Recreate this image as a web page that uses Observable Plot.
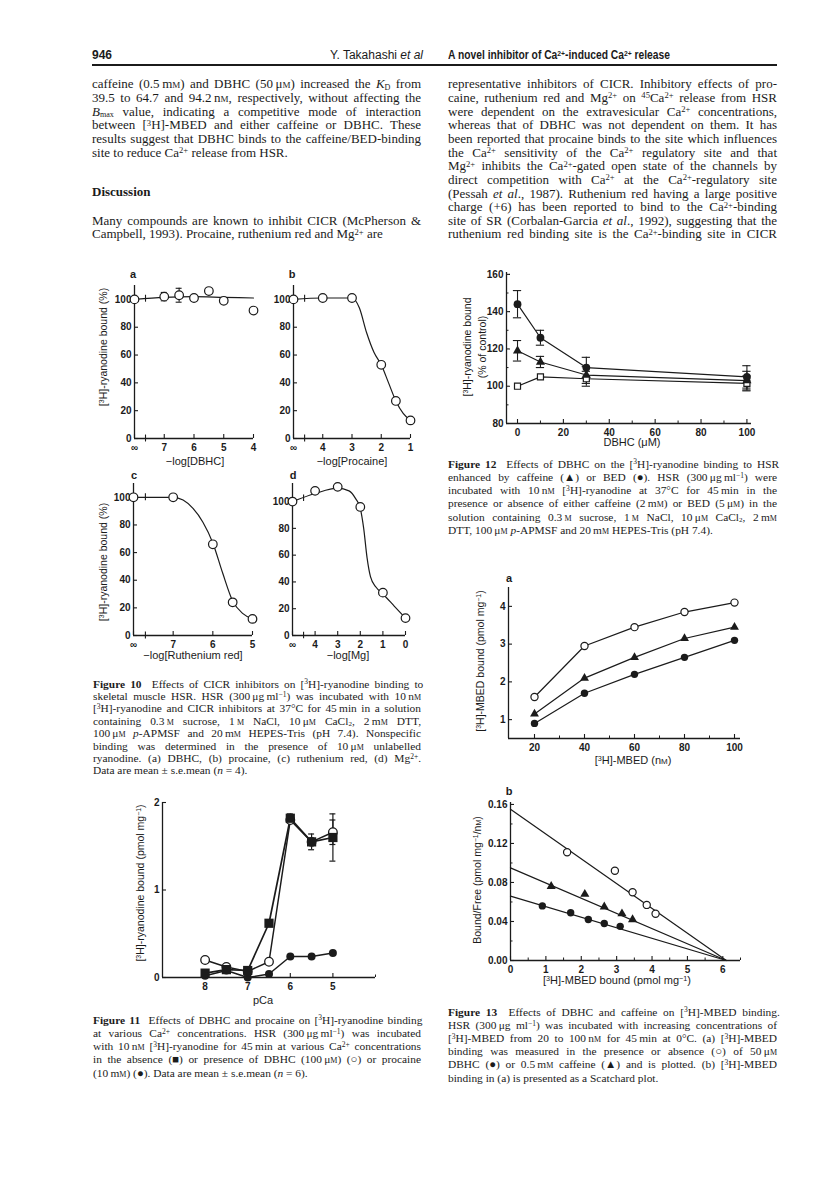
<!DOCTYPE html>
<html>
<head>
<meta charset="utf-8">
<script src="https://cdn.jsdelivr.net/npm/d3@7"></script>
<script src="https://cdn.jsdelivr.net/npm/@observablehq/plot@0.6"></script>
<style>
  html,body{margin:0;padding:0;background:#fff;}
  #page{position:relative;width:816px;height:1187px;overflow:hidden;background:#fff;color:#1b1b1b;}
  .t{position:absolute;white-space:nowrap;}
  .body{font-family:"Liberation Serif","Times New Roman",serif;font-size:13px;line-height:13px;}
  .cap{font-family:"Liberation Serif","Times New Roman",serif;font-size:11.4px;line-height:12px;}
  .head{font-family:"Liberation Sans",Arial,sans-serif;font-size:12px;line-height:13px;}
  sup{font-size:0.66em;vertical-align:0;position:relative;top:-0.42em;line-height:0;}
  sub{font-size:0.62em;vertical-align:0;position:relative;top:0.15em;line-height:0;}
  .sc{font-variant:small-caps;}
  .lab{position:absolute;white-space:nowrap;font-family:"Liberation Sans",Arial,sans-serif;font-size:11px;line-height:13px;transform:translate(-50%,-50%);}
  .rot{transform:translate(-50%,-50%) rotate(-90deg);font-size:10.5px;}
  .let{position:absolute;font-family:"Liberation Sans",Arial,sans-serif;font-weight:bold;font-size:11px;transform:translate(-50%,-50%);}
  #page svg{position:absolute;overflow:visible;}
</style>
</head>
<body>
<div id="page"></div>
<script>
// ===================== DATA =====================
// Figure 10a  DBHC (x = -log concentration, 8 stands for "∞")
const f10aX = [8, 7, 6.5, 6, 5.5, 5, 4];
const f10aY = [100, 102, 103, 101, 106, 99, 92];
const f10aErr = [0, 3, 5, 0, 0, 0, 0];
const f10aCurveX = [8, 7, 6, 5, 4];
const f10aCurveY = [100, 101.5, 102, 101.5, 101];
// Figure 10b  procaine (5 stands for "∞")
const f10bX = [5, 4, 3, 2, 1.5, 1];
const f10bY = [100, 101, 101, 53, 27, 13];
const f10bCurveX = [5, 4, 3, 2.75, 2.5, 2.25, 2, 1.75, 1.5, 1.25, 1];
const f10bCurveY = [100, 101, 101, 94, 76, 62, 53, 40, 27, 18, 13];
// Figure 10c  ruthenium red (8 stands for "∞")
const f10cX = [8, 7, 6, 5.5, 5];
const f10cY = [100, 100, 66, 24, 12];
const f10cCurveX = [8, 7, 6.75, 6.5, 6.25, 6, 5.75, 5.5, 5.25, 5];
const f10cCurveY = [100, 100, 98, 92, 82, 67, 45, 25, 16, 12];
// Figure 10d  Mg (5 stands for "∞")
const f10dX = [5, 4, 3, 2, 1, 0];
const f10dY = [100, 108, 111, 96, 32, 13];
const f10dCurveX = [5, 4, 3, 2.5, 2.2, 2, 1.85, 1.7, 1.55, 1.3, 1, 0.5, 0];
const f10dCurveY = [100, 106, 110, 108, 102, 95, 80, 58, 44, 36, 31, 22, 13];
const f10YTicks = [0, 20, 40, 60, 80, 100];

// Figure 11  pCa
const f11X = [8, 7.5, 7, 6.5, 6, 5.5, 5];
const f11Ctrl = [0.05, 0.09, 0.08, 0.62, 1.82, 1.55, 1.60];
const f11CtrlErr = [0, 0, 0, 0.03, 0.05, 0.09, 0.27];
const f11Dbhc = [0.20, 0.12, 0.07, 0.18, 1.80, 1.55, 1.66];
const f11DbhcErr = [0, 0, 0, 0, 0, 0, 0.14];
const f11Proc = [0.02, 0.08, 0.00, 0.04, 0.24, 0.24, 0.28];

// Figure 12  DBHC (µM)
const f12X = [0, 10, 30, 100];
const f12Bed = [144, 126, 110, 105];
const f12BedErr = [7.3, 4, 5.5, 6];
const f12Caf = [119, 113, 106, 103];
const f12CafErr = [5.5, 3, 4.5, 5];
const f12Ctl = [100, 105, 104, 101.5];
const f12CtlErr = [0, 0, 4, 4];

// Figure 13a  [3H]-MBED (nM)
const f13aX = [20, 40, 60, 80, 100];
const f13aCtl = [1.6, 2.95, 3.45, 3.85, 4.1];
const f13aCaf = [1.15, 2.1, 2.65, 3.15, 3.45];
const f13aDbhc = [0.9, 1.7, 2.2, 2.65, 3.1];

// Figure 13b  Scatchard
const f13bCtlX = [1.6, 2.95, 3.45, 3.85, 4.1];
const f13bCtlY = [0.111, 0.092, 0.070, 0.057, 0.048];
const f13bCafX = [1.15, 2.1, 2.65, 3.15, 3.45];
const f13bCafY = [0.076, 0.068, 0.055, 0.048, 0.042];
const f13bDbhcX = [0.9, 1.7, 2.2, 2.65, 3.1];
const f13bDbhcY = [0.056, 0.049, 0.042, 0.038, 0.035];
const f13bFitX = [0, 6.1];
const f13bCtlFit = [0.155, 0];
const f13bCafFit = [0.095, 0];
const f13bDbhcFit = [0.066, 0];

// ===================== TEXT =====================
const M = '<span class="sc">m</span>';
const S = '&thinsp;';
const headPage = "946";
const headAuthor = "Y. Takahashi <i>et al</i>";
const headTitle = "A novel inhibitor of Ca<sup>2+</sup>-induced Ca<sup>2+</sup> release";
const leftPara1 = [
  `caffeine (0.5${S}m${M}) and DBHC (50${S}μ${M}) increased the <i>K</i><sub>D</sub> from`,
  `39.5 to 64.7 and 94.2${S}n${M}, respectively, without affecting the`,
  `<i>B</i><sub>max</sub> value, indicating a competitive mode of interaction`,
  `between [<sup>3</sup>H]-MBED and either caffeine or DBHC. These`,
  `results suggest that DBHC binds to the caffeine/BED-binding`,
  `site to reduce Ca<sup>2+</sup> release from HSR.`
];
const discussionHead = "Discussion";
const leftPara2 = [
  `Many compounds are known to inhibit CICR (McPherson &amp;`,
  `Campbell, 1993). Procaine, ruthenium red and Mg<sup>2+</sup> are`
];
const rightPara = [
  `representative inhibitors of CICR. Inhibitory effects of pro-`,
  `caine, ruthenium red and Mg<sup>2+</sup> on <sup>45</sup>Ca<sup>2+</sup> release from HSR`,
  `were dependent on the extravesicular Ca<sup>2+</sup> concentrations,`,
  `whereas that of DBHC was not dependent on them. It has`,
  `been reported that procaine binds to the site which influences`,
  `the Ca<sup>2+</sup> sensitivity of the Ca<sup>2+</sup> regulatory site and that`,
  `Mg<sup>2+</sup> inhibits the Ca<sup>2+</sup>-gated open state of the channels by`,
  `direct competition with Ca<sup>2+</sup> at the Ca<sup>2+</sup>-regulatory site`,
  `(Pessah <i>et al</i>., 1987). Ruthenium red having a large positive`,
  `charge (+6) has been reported to bind to the Ca<sup>2+</sup>-binding`,
  `site of SR (Corbalan-Garcia <i>et al</i>., 1992), suggesting that the`,
  `ruthenium red binding site is the Ca<sup>2+</sup>-binding site in CICR`
];
const cap10 = [
  `<b>Figure 10</b>&nbsp; Effects of CICR inhibitors on [<sup>3</sup>H]-ryanodine binding to`,
  `skeletal muscle HSR. HSR (300${S}μg${S}ml<sup>−1</sup>) was incubated with 10${S}n${M}`,
  `[<sup>3</sup>H]-ryanodine and CICR inhibitors at 37°C for 45${S}min in a solution`,
  `containing 0.3${S}${M} sucrose, 1${S}${M} NaCl, 10${S}μ${M} CaCl<sub>2</sub>, 2${S}m${M} DTT,`,
  `100${S}μ${M} <i>p</i>-APMSF and 20${S}m${M} HEPES-Tris (pH 7.4). Nonspecific`,
  `binding was determined in the presence of 10${S}μ${M} unlabelled`,
  `ryanodine. (a) DBHC, (b) procaine, (c) ruthenium red, (d) Mg<sup>2+</sup>.`,
  `Data are mean ± s.e.mean (<i>n</i> = 4).`
];
const cap11 = [
  `<b>Figure 11</b>&nbsp; Effects of DBHC and procaine on [<sup>3</sup>H]-ryanodine binding`,
  `at various Ca<sup>2+</sup> concentrations. HSR (300${S}μg${S}ml<sup>−1</sup>) was incubated`,
  `with 10${S}n${M} [<sup>3</sup>H]-ryanodine for 45${S}min at various Ca<sup>2+</sup> concentrations`,
  `in the absence (■) or presence of DBHC (100${S}μ${M}) (○) or procaine`,
  `(10${S}m${M}) (●). Data are mean ± s.e.mean (<i>n</i> = 6).`
];
const cap12 = [
  `<b>Figure 12</b>&nbsp; Effects of DBHC on the [<sup>3</sup>H]-ryanodine binding to HSR`,
  `enhanced by caffeine (▲) or BED (●). HSR (300${S}μg${S}ml<sup>−1</sup>) were`,
  `incubated with 10${S}n${M} [<sup>3</sup>H]-ryanodine at 37°C for 45${S}min in the`,
  `presence or absence of either caffeine (2${S}m${M}) or BED (5${S}μ${M}) in the`,
  `solution containing 0.3${S}${M} sucrose, 1${S}${M} NaCl, 10${S}μ${M} CaCl<sub>2</sub>, 2${S}m${M}`,
  `DTT, 100${S}μ${M} <i>p</i>-APMSF and 20${S}m${M} HEPES-Tris (pH 7.4).`
];
const cap13 = [
  `<b>Figure 13</b>&nbsp; Effects of DBHC and caffeine on [<sup>3</sup>H]-MBED binding.`,
  `HSR (300${S}μg ml<sup>−1</sup>) was incubated with increasing concentrations of`,
  `[<sup>3</sup>H]-MBED from 20 to 100${S}n${M} for 45${S}min at 0°C. (a) [<sup>3</sup>H]-MBED`,
  `binding was measured in the presence or absence (○) of 50${S}μ${M}`,
  `DBHC (●) or 0.5${S}m${M} caffeine (▲) and is plotted. (b) [<sup>3</sup>H]-MBED`,
  `binding in (a) is presented as a Scatchard plot.`
];
const xLabelText = ["−log[DBHC]", "−log[Procaine]", "−log[Ruthenium red]", "−log[Mg]", "pCa", "DBHC (μM)",
  `[<sup>3</sup>H]-MBED (n${M})`, "[<sup>3</sup>H]-MBED bound (pmol mg<sup>−1</sup>)"];
const yLabelText = ["[<sup>3</sup>H]-ryanodine bound (%)", "[<sup>3</sup>H]-ryanodine bound (%)",
  "[<sup>3</sup>H]-ryanodine bound (pmol mg<sup>−1</sup>)", "[<sup>3</sup>H]-ryanodine bound", "(% of control)",
  "[<sup>3</sup>H]-MBED bound (pmol mg<sup>−1</sup>)", `Bound/Free (pmol mg<sup>−1</sup>/n${M})`];
const panelLetterText = ["a", "b", "c", "d", "a", "b"];

// ===================== LAYOUT =====================
const page = document.getElementById("page");
const ink = "#1b1b1b";

function line(html, x, y, cls, w, justify) {
  const d = document.createElement("div");
  d.className = "t " + cls;
  d.innerHTML = html;
  d.style.left = x + "px";
  page.appendChild(d);
  const r = d.getBoundingClientRect();
  d.style.top = (y - r.height / 2 - 1.5) + "px";
  if (w) {
    const n = (d.textContent.match(/ /g) || []).length;
    if (n && (justify || r.width > w)) d.style.wordSpacing = ((w - r.width) / n) + "px";
  }
  return d;
}
function block(lines, x, y0, step, w, cls) {
  lines.forEach((h, i) => line(h, x, y0 + i * step, cls, w, i < lines.length - 1));
}

// header
line(headPage, 92, 57, "head").style.fontWeight = "bold";
const au = line(headAuthor, 0, 57, "head");
au.style.left = (423 - au.getBoundingClientRect().width) + "px";
const ti = line(headTitle, 448, 57, "head");
ti.style.fontWeight = "bold";
ti.style.transformOrigin = "0 50%";
ti.style.transform = `scaleX(${222 / ti.getBoundingClientRect().width})`;
const rule = document.createElement("div");
Object.assign(rule.style, {position: "absolute", left: "92px", top: "64px", width: "685px", height: "1.6px", background: ink});
page.appendChild(rule);

// body text
block(leftPara1, 92, 85.3, 13.65, 329, "body");
line(discussionHead, 92, 193, "body").style.fontWeight = "bold";
block(leftPara2, 92, 221.5, 13.65, 329, "body");
rightPara.forEach((h, i) => line(h, 448, 85.3 + i * 13.65, "body", 329, true));

// captions
block(cap10, 93, 685, 12.4, 328, "cap");
block(cap11, 93, 1021, 13.3, 328, "cap");
block(cap12, 448, 465, 13.3, 329, "cap");
block(cap13, 448, 1013, 13.2, 329, "cap");

// axis titles and panel letters
const xLabelPos = [[195, 461], [352, 461], [193, 655], [348, 655], [263, 1000], [632, 442], [633, 760], [617, 980]];
xLabelText.forEach((t, i) => {
  const d = document.createElement("div"); d.className = "lab"; d.innerHTML = t;
  d.style.left = xLabelPos[i][0] + "px"; d.style.top = xLabelPos[i][1] + "px"; page.appendChild(d);
});
const yLabelPos = [[103, 347], [103, 562], [140, 883], [467, 347], [482, 347], [480, 661], [477, 880]];
yLabelText.forEach((t, i) => {
  const d = document.createElement("div"); d.className = "lab rot"; d.innerHTML = t;
  d.style.left = yLabelPos[i][0] + "px"; d.style.top = yLabelPos[i][1] + "px"; page.appendChild(d);
});
const letterPos = [[133, 274], [292, 274], [134, 475], [293, 475], [509, 578], [509, 791]];
panelLetterText.forEach((t, i) => {
  const d = document.createElement("div"); d.className = "let"; d.textContent = t;
  d.style.left = letterPos[i][0] + "px"; d.style.top = letterPos[i][1] + "px"; page.appendChild(d);
});

// ===================== PLOTS =====================
function mkPlot(o) {
  const ml = 40, mr = 12, mt = 12, mb = 26;
  const width = ml + (o.x1 - o.x0) + mr;
  const height = mt + (o.yb - o.yt) + mb;
  const marks = [
    Plot.ruleX([o.xd[0]], {stroke: ink, strokeWidth: 1.3}),
    Plot.ruleY([o.yd[0]], {stroke: ink, strokeWidth: 1.3}),
    Plot.axisX(o.xt, {tickSize: -4, tickPadding: 9, tickFormat: o.xFmt || (d => String(d)), label: null, fontWeight: "bold", fontSize: 10, stroke: ink, strokeWidth: 1.1}),
    Plot.axisY(o.yt_, {tickSize: -4, tickPadding: 7, tickFormat: o.yFmt || (d => String(d)), label: null, fontWeight: "bold", fontSize: 10, stroke: ink, strokeWidth: 1.1}),
  ];
  if (o.xm) marks.push(Plot.axisX(o.xm, {tickSize: -2.5, tickFormat: () => "", label: null, stroke: ink}));
  if (o.ym) marks.push(Plot.axisY(o.ym, {tickSize: -2.5, tickFormat: () => "", label: null, stroke: ink}));
  const svg = Plot.plot({
    width, height, marginLeft: ml, marginRight: mr, marginTop: mt, marginBottom: mb,
    x: {domain: o.xd, label: null}, y: {domain: o.yd, label: null},
    style: {fontFamily: "Liberation Sans, Arial, sans-serif", fontSize: "10px", color: ink, background: "transparent", overflow: "visible"},
    marks: marks.concat(o.marks)
  });
  svg.style.left = (o.x0 - ml) + "px";
  svg.style.top = (o.yt - mt) + "px";
  page.appendChild(svg);
}
const zip = (xs, ys, es) => xs.map((x, i) => ({x, y: ys[i], e: es ? es[i] : 0}));
function errMarks(data, cap, sw = 1.1) {
  const d = data.filter(p => p.e > 0);
  return [
    Plot.ruleX(d, {x: "x", y1: p => p.y - p.e, y2: p => p.y + p.e, stroke: ink, strokeWidth: sw}),
    Plot.ruleY(d, {y: p => p.y + p.e, x1: p => p.x - cap, x2: p => p.x + cap, stroke: ink, strokeWidth: sw}),
    Plot.ruleY(d, {y: p => p.y - p.e, x1: p => p.x - cap, x2: p => p.x + cap, stroke: ink, strokeWidth: sw}),
  ];
}

// Figure 10 panels
function f10(o) {
  const pts = zip(o.px, o.py, o.pe);
  const cur = zip(o.cx, o.cy);
  mkPlot({
    x0: o.x0, x1: o.x1, yb: o.yb, yt: o.yt, xd: o.xd, yd: o.yd, xt: o.xt, yt_: f10YTicks,
    xFmt: d => d === o.xd[0] ? "∞" : String(d),
    marks: [
      Plot.line(cur, {x: "x", y: "y", curve: "monotone-x", stroke: ink, strokeWidth: 1.2}),
      ...errMarks(pts, o.cap),
      Plot.ruleX([o.brk], {y1: -2.5, y2: 2.5, stroke: ink, strokeWidth: 1.1}),
      Plot.ruleX([o.brk], {y1: o.brkY - 2.5, y2: o.brkY + 2.5, stroke: ink, strokeWidth: 1.1}),
      Plot.dot(pts, {x: "x", y: "y", r: 4.3, fill: "white", stroke: ink, strokeWidth: 1.2})
    ]
  });
}
f10({x0: 134, x1: 253, yb: 438, yt: 285, xd: [8, 4], yd: [0, 110], xt: [8, 7, 6, 5, 4],
  px: f10aX, py: f10aY, pe: f10aErr, cx: f10aCurveX, cy: f10aCurveY, brk: 7.63, brkY: 100.5, cap: 0.1});
f10({x0: 293, x1: 410, yb: 438, yt: 285, xd: [5, 1], yd: [0, 110], xt: [5, 4, 3, 2, 1],
  px: f10bX, py: f10bY, cx: f10bCurveX, cy: f10bCurveY, brk: 4.62, brkY: 100.5, cap: 0.1});
f10({x0: 133, x1: 252, yb: 635, yt: 483, xd: [8, 5], yd: [0, 110], xt: [8, 7, 6, 5],
  px: f10cX, py: f10cY, cx: f10cCurveX, cy: f10cCurveY, brk: 7.7, brkY: 100, cap: 0.1});
f10({x0: 292, x1: 405, yb: 635, yt: 483, xd: [5, 0], yd: [0, 113.5], xt: [5, 4, 3, 2, 1, 0],
  px: f10dX, py: f10dY, cx: f10dCurveX, cy: f10dCurveY, brk: 4.51, brkY: 102.5, cap: 0.1});

// Figure 11
{
  const ctl = zip(f11X, f11Ctrl, f11CtrlErr);
  const dbhc = zip(f11X, f11Dbhc, f11DbhcErr);
  const proc = zip(f11X, f11Proc);
  mkPlot({
    x0: 162, x1: 375, yb: 977, yt: 802, xd: [9, 4], yd: [0, 2], xt: [8, 7, 6, 5], xm: [4], yt_: [0, 1, 2],
    marks: [
      Plot.line(proc, {x: "x", y: "y", stroke: ink, strokeWidth: 1.5}),
      Plot.line(dbhc, {x: "x", y: "y", stroke: ink, strokeWidth: 1.5}),
      Plot.line(ctl, {x: "x", y: "y", stroke: ink, strokeWidth: 1.7}),
      ...errMarks(ctl, 0.07, 1.2),
      ...errMarks(dbhc, 0.07, 1.2),
      Plot.dot(proc, {x: "x", y: "y", r: 4, fill: ink}),
      Plot.dot(dbhc, {x: "x", y: "y", r: 4.3, fill: "white", stroke: ink, strokeWidth: 1.3}),
      Plot.dot(ctl, {x: "x", y: "y", r: 5.2, symbol: "square", fill: ink})
    ]
  });
}

// Figure 12
{
  const bed = zip(f12X, f12Bed, f12BedErr);
  const caf = zip(f12X, f12Caf, f12CafErr);
  const ctl = zip(f12X, f12Ctl, f12CtlErr);
  mkPlot({
    x0: 506, x1: 751, yb: 423, yt: 272, xd: [-4.8, 102], yd: [80, 161],
    xt: [0, 20, 40, 60, 80, 100], xm: [10, 30, 50, 70, 90], yt_: [80, 100, 120, 140, 160], ym: [90, 110, 130, 150],
    marks: [
      Plot.line(bed, {x: "x", y: "y", stroke: ink, strokeWidth: 1.2}),
      Plot.line(caf, {x: "x", y: "y", stroke: ink, strokeWidth: 1.2}),
      Plot.line(ctl, {x: "x", y: "y", stroke: ink, strokeWidth: 1.2}),
      ...errMarks(bed, 1.8), ...errMarks(caf, 1.8), ...errMarks(ctl, 1.8),
      Plot.dot(ctl, {x: "x", y: "y", r: 3.4, symbol: "square", fill: "white", stroke: ink, strokeWidth: 1.2}),
      Plot.dot(caf, {x: "x", y: "y", r: 3.4, symbol: "triangle", fill: ink}),
      Plot.dot(bed, {x: "x", y: "y", r: 3.9, fill: ink})
    ]
  });
}

// Figure 13a
{
  const ctl = zip(f13aX, f13aCtl), caf = zip(f13aX, f13aCaf), dbhc = zip(f13aX, f13aDbhc);
  mkPlot({
    x0: 508, x1: 740, yb: 738, yt: 587, xd: [9.6, 102.4], yd: [0.5, 4.5],
    xt: [20, 40, 60, 80, 100], xm: [30, 50, 70, 90], yt_: [1, 2, 3, 4],
    marks: [
      Plot.line(ctl, {x: "x", y: "y", stroke: ink, strokeWidth: 1.2}),
      Plot.line(caf, {x: "x", y: "y", stroke: ink, strokeWidth: 1.2}),
      Plot.line(dbhc, {x: "x", y: "y", stroke: ink, strokeWidth: 1.2}),
      Plot.dot(ctl, {x: "x", y: "y", r: 3.6, fill: "white", stroke: ink, strokeWidth: 1.2}),
      Plot.dot(caf, {x: "x", y: "y", r: 3.3, symbol: "triangle", fill: ink}),
      Plot.dot(dbhc, {x: "x", y: "y", r: 3.7, fill: ink})
    ]
  });
}

// Figure 13b
{
  const ctl = zip(f13bCtlX, f13bCtlY), caf = zip(f13bCafX, f13bCafY), dbhc = zip(f13bDbhcX, f13bDbhcY);
  mkPlot({
    x0: 510, x1: 740, yb: 960, yt: 802, xd: [0, 6.5], yd: [0, 0.162],
    xt: [0, 1, 2, 3, 4, 5, 6], xm: [0.5, 1.5, 2.5, 3.5, 4.5, 5.5, 6.5], yt_: [0, 0.04, 0.08, 0.12, 0.16], ym: [0.02, 0.06, 0.1, 0.14],
    yFmt: d => d.toFixed(2),
    marks: [
      Plot.line(zip(f13bFitX, f13bCtlFit), {x: "x", y: "y", stroke: ink, strokeWidth: 1.2}),
      Plot.line(zip(f13bFitX, f13bCafFit), {x: "x", y: "y", stroke: ink, strokeWidth: 1.2}),
      Plot.line(zip(f13bFitX, f13bDbhcFit), {x: "x", y: "y", stroke: ink, strokeWidth: 1.2}),
      Plot.dot(ctl, {x: "x", y: "y", r: 3.6, fill: "white", stroke: ink, strokeWidth: 1.2}),
      Plot.dot(caf, {x: "x", y: "y", r: 3.4, symbol: "triangle", fill: ink}),
      Plot.dot(dbhc, {x: "x", y: "y", r: 3.7, fill: ink})
    ]
  });
}
</script>
</body>
</html>
